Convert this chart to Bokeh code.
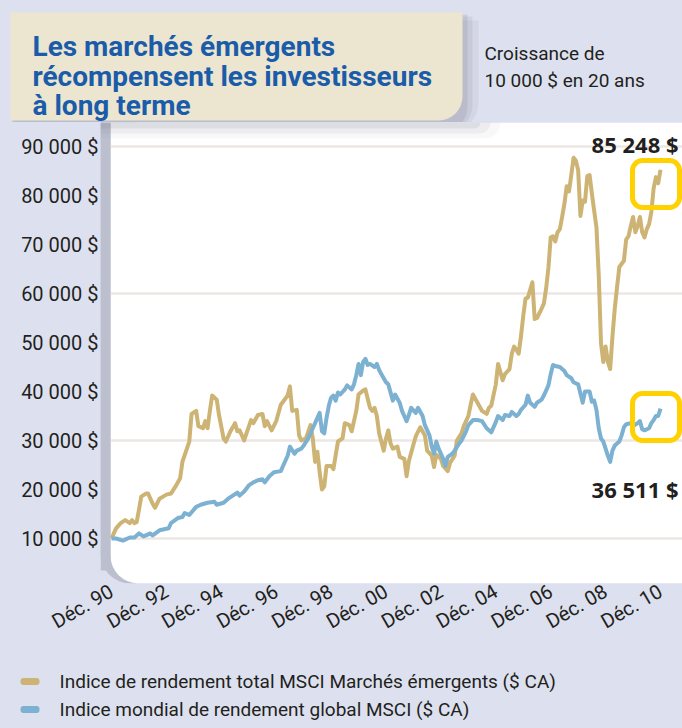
import math
from bokeh.plotting import figure
from bokeh.layouts import column
from bokeh.models import Range1d, FixedTicker, BoxAnnotation, Label, Span
from bokeh.embed import file_html
from bokeh.resources import INLINE

# ---------------- data ----------------
em_dates = ["1990-12","1991-02","1991-04","1991-06","1991-08","1991-09","1991-10","1991-11","1991-12",
"1992-01","1992-03","1992-04","1992-06","1992-07","1992-09","1992-12","1993-02","1993-04","1993-06",
"1993-07","1993-10","1993-11","1994-01","1994-02","1994-04","1994-05","1994-06","1994-07","1994-08",
"1994-10","1994-11","1995-01","1995-02","1995-04","1995-06","1995-07","1995-08","1995-10","1995-11",
"1996-01","1996-02","1996-04","1996-06","1996-07","1996-08","1996-10","1996-12","1997-02","1997-03",
"1997-05","1997-06","1997-07","1997-09","1997-10","1997-11","1998-01","1998-03","1998-04","1998-05",
"1998-06","1998-07","1998-08","1998-09","1998-10","1998-12","1999-01","1999-03","1999-05","1999-06",
"1999-08","1999-09","1999-11","1999-12","2000-02","2000-03","2000-05","2000-06","2000-07","2000-08",
"2000-09","2000-11","2000-12","2001-01","2001-02","2001-03","2001-05","2001-06","2001-08","2001-09",
"2001-10","2001-12","2002-01","2002-03","2002-05","2002-06","2002-08","2002-09","2002-10","2002-12",
"2003-01","2003-03","2003-04","2003-06","2003-07","2003-09","2003-10","2003-12","2004-01","2004-02",
"2004-04","2004-06","2004-08","2004-09","2004-10","2004-12","2005-01","2005-03","2005-04","2005-06",
"2005-07","2005-08","2005-09","2005-10","2005-11","2005-12","2006-01","2006-02","2006-04","2006-05",
"2006-06","2006-08","2006-09","2006-10","2006-11","2006-12","2007-01","2007-02","2007-03","2007-04",
"2007-05","2007-06","2007-07","2007-08","2007-09","2007-10","2007-11","2007-12","2008-01","2008-02",
"2008-03","2008-04","2008-05","2008-06","2008-07","2008-08","2008-09","2008-10","2008-11","2008-12",
"2009-01","2009-02","2009-03","2009-04","2009-05","2009-06","2009-08","2009-09","2009-10","2009-11",
"2009-12","2010-01","2010-02","2010-03","2010-04","2010-05","2010-06","2010-07","2010-08","2010-09",
"2010-10","2010-11","2010-12"]
em_values = [10000,12080,13130,13750,13130,13750,13130,13330,15830,
18540,19170,19170,17080,16250,18130,18960,19170,20630,22290,
25630,29790,35420,36040,32920,32500,33960,32500,36040,39170,
38330,35210,30420,29790,31880,33540,31880,32080,30000,31460,
34170,33540,35210,35420,32920,33960,32080,33960,37290,37920,
39170,41040,36040,36250,31040,30000,30420,33130,30420,25630,
27710,23540,20000,20630,24790,24790,24170,29790,30420,33540,
33130,31880,36040,39380,40210,40420,36670,36040,36670,35000,
31460,27920,30420,32080,29380,28330,28750,26670,26250,22710,
25830,29170,30830,32710,31040,27920,26880,24580,27080,26250,
24790,23750,25420,26880,30000,31460,32920,35000,37290,39380,
37710,36040,35420,36670,37080,41460,45630,42290,43540,44580,
47710,49170,48540,47710,51250,55420,58960,59170,62290,54790,
55000,56880,57920,61040,65210,71460,71670,70630,72500,73130,
75630,78330,81880,80830,84170,87710,87080,85210,75830,78960,
78750,83960,84170,80420,76880,73540,63750,49790,46040,49170,
46040,44580,51250,56880,61250,65420,66670,71040,71670,73750,
75630,72500,73750,75630,72500,71460,73130,74170,76670,81460,
83750,82500,85248]

gl_dates = ["1990-12","1991-02","1991-05","1991-08","1991-10","1991-12","1992-02","1992-05","1992-06",
"1992-09","1993-01","1993-02","1993-05","1993-07","1993-08","1993-10","1994-01","1994-03","1994-06",
"1994-09","1994-10","1995-01","1995-03","1995-05","1995-07","1995-08","1995-10","1995-12","1996-02",
"1996-04","1996-06","1996-07","1996-09","1996-11","1997-02","1997-03","1997-05","1997-06","1997-08",
"1997-09","1997-11","1997-12","1998-02","1998-04","1998-05","1998-07","1998-08","1998-09","1998-10",
"1998-11","1998-12","1999-01","1999-02","1999-03","1999-04","1999-06","1999-07","1999-09","1999-10",
"1999-11","1999-12","2000-01","2000-02","2000-03","2000-04","2000-05","2000-07","2000-08","2000-09",
"2000-10","2000-12","2001-01","2001-03","2001-04","2001-06","2001-07","2001-09","2001-10","2001-11",
"2002-01","2002-02","2002-04","2002-05","2002-07","2002-08","2002-09","2002-10","2002-11","2003-01",
"2003-02","2003-03","2003-05","2003-06","2003-08","2003-09","2003-11","2003-12","2004-02","2004-04",
"2004-06","2004-08","2004-10","2004-12","2005-01","2005-03","2005-04","2005-06","2005-07","2005-09",
"2005-10","2005-11","2006-01","2006-02","2006-03","2006-05","2006-06","2006-08","2006-09","2006-11",
"2006-12","2007-01","2007-02","2007-04","2007-06","2007-07","2007-09","2007-10","2007-12","2008-01",
"2008-02","2008-03","2008-05","2008-06","2008-07","2008-08","2008-09","2008-10","2008-11","2008-12",
"2009-01","2009-02","2009-03","2009-04","2009-06","2009-07","2009-08","2009-09","2009-11","2009-12",
"2010-02","2010-03","2010-04","2010-05","2010-07","2010-08","2010-09","2010-10","2010-11","2010-12"]
gl_values = [10000,10000,9580,10210,10210,11040,10420,11040,10630,
11670,12080,13130,14170,14380,15210,14790,16460,16880,17290,
17500,16880,17290,18130,18750,19380,18750,19580,20830,21460,
21880,22080,21460,22710,23540,23750,24790,26880,28750,27290,
27920,28330,28960,30420,32500,33540,35630,31880,31460,34580,
37080,38750,39170,38130,39790,39380,40420,41250,40420,41460,
43330,45630,43330,46040,46670,45420,45630,45000,45630,44380,
43540,41880,41460,38130,39380,37710,36040,33960,35210,36670,
35630,36670,35000,33130,31040,28750,27290,29790,28330,26250,
24790,26670,27290,27920,29380,30000,31880,33130,34170,34170,
33960,32500,31670,33750,35000,34170,35210,35000,35830,35000,
35420,36250,37290,39170,37710,36880,37710,38330,39170,41250,
43540,45420,45210,45000,44170,43330,42710,41880,41460,39580,
37710,40000,40000,37920,38130,36250,32500,30420,29790,28330,
26880,25630,27920,28960,29790,31040,32710,33330,33540,32920,
33540,33960,32290,32080,32500,33540,34170,35000,35000,36511]

y_ticks = [10000, 20000, 30000, 40000, 50000, 60000, 70000, 80000, 90000]
grid_values = [10000, 30000, 60000, 90000]
x_tick_dates = ["1990-12","1992-12","1994-12","1996-12","1998-12","2000-12",
                "2002-12","2004-12","2006-12","2008-12","2010-12"]
x_tick_labels = ["Déc. 90","Déc. 92","Déc. 94","Déc. 96","Déc. 98","Déc. 00",
                 "Déc. 02","Déc. 04","Déc. 06","Déc. 08","Déc. 10"]

title_lines = ["Les marchés émergents", "récompensent les investisseurs", "à long terme"]
subtitle_lines = ["Croissance de", "10 000 $ en 20 ans"]
em_name = "Indice de rendement total MSCI Marchés émergents ($ CA)"
gl_name = "Indice mondial de rendement global MSCI ($ CA)"

# ---------------- style ----------------
LAV = "#dde1ef"
BEIGE = "#ece6d0"
TITLE_BLUE = "#1a5ca9"
TXT = "#231f20"
GOLD = "#cdb474"
BLUE = "#7cb1d2"
YELLOW = "#ffd100"
GRID = "#ebe7e4"
STRIP = "#bcbfcd"
FONT = "Roboto"
FONT_B = "Open Sans"

def month_index(s):
    y, m = s.split("-")
    return (int(y) - 1990) * 12 + int(m) - 12

def money(v):
    return f"{v:,}".replace(",", " ") + " $"

W = 682
TOP_H, MAIN_H, LEG_H = 122, 533, 73

def bare_figure(h):
    f = figure(width=W, height=h, x_range=Range1d(0, W), y_range=Range1d(0, h),
               output_backend="svg", toolbar_location=None, x_axis_location=None,
               y_axis_location=None, min_border=0, min_border_left=0, min_border_right=0,
               min_border_top=0, min_border_bottom=0, frame_align=False,
               background_fill_color=LAV, border_fill_color=LAV, outline_line_color=None)
    f.grid.visible = False
    return f

# ================= title strip (page y 0..122) =================
t = bare_figure(TOP_H)

def ty(py):
    return TOP_H - py

for (l, r, tp, a, rad) in [(14, 478, 20, 0.10, 30), (12, 472, 16, 0.14, 28), (11, 467, 14, 0.18, 26)]:
    t.add_layout(BoxAnnotation(left=l, right=r, top=ty(tp), bottom=ty(TOP_H + 10),
                               fill_color="#7d8090", fill_alpha=a, line_color=None, line_alpha=0,
                               border_radius=(0, 0, rad, 0), level="underlay"))
t.add_layout(BoxAnnotation(left=10, right=462, top=ty(12), bottom=ty(120),
                           fill_color=BEIGE, fill_alpha=1.0, line_color=None, line_alpha=0,
                           border_radius=(0, 0, 24, 0), level="annotation"))
for i, s in enumerate(title_lines):
    t.add_layout(Label(x=32, y=ty(46 + 29.5 * i), text=s, text_align="left",
                       text_baseline="alphabetic", text_font=FONT, text_font_style="bold",
                       text_font_size="28px", text_color=TITLE_BLUE, level="overlay"))
for i, s in enumerate(subtitle_lines):
    t.add_layout(Label(x=484, y=ty(53 + 27 * i), text=s, text_align="left",
                       text_baseline="alphabetic", text_font=FONT,
                       text_font_size="19px", text_color=TXT, level="overlay"))

# ================= main chart (page y 122..655) =================
OFF = TOP_H
FL, FT, FR, FB = 100, 122, 682, 583
PX_PER_MONTH = 2.2875
PX_PER_DOLLAR = 4.9 / 1000
X0_PX, Y10K_PX = 111, 538

x_start = -(X0_PX - FL) / PX_PER_MONTH
x_end = x_start + (FR - FL) / PX_PER_MONTH
y_end = 10000 + (Y10K_PX - FT) / PX_PER_DOLLAR
y_start = y_end - (FB - FT) / PX_PER_DOLLAR

def dx(px):
    return x_start + (px - FL) / PX_PER_MONTH

def dy(py):
    return y_end - (py - FT) / PX_PER_DOLLAR

p = figure(width=W, height=MAIN_H, x_range=Range1d(x_start, x_end), y_range=Range1d(y_start, y_end),
           output_backend="svg", toolbar_location=None, frame_align=False,
           min_border_left=FL, min_border_right=W - FR, min_border_top=FT - OFF,
           min_border_bottom=(OFF + MAIN_H) - FB,
           background_fill_color=LAV, border_fill_color=LAV, outline_line_color=None)
p.grid.visible = False

p.xaxis.ticker = FixedTicker(ticks=[month_index(d) for d in x_tick_dates])
p.xaxis.major_label_overrides = {month_index(d): lab for d, lab in zip(x_tick_dates, x_tick_labels)}
p.xaxis.major_label_orientation = math.pi / 6
p.yaxis.ticker = FixedTicker(ticks=y_ticks)
p.yaxis.major_label_overrides = {v: money(v) for v in y_ticks}
for ax in (p.xaxis[0], p.yaxis[0]):
    ax.axis_line_color = None
    ax.major_tick_line_color = None
    ax.minor_tick_line_color = None
    ax.major_tick_out = 0
    ax.major_tick_in = 0
    ax.major_label_text_font = FONT
    ax.major_label_text_font_size = "20px"
    ax.major_label_text_color = TXT
p.xaxis.major_label_standoff = 6
p.yaxis.major_label_standoff = 2

# white rounded panel with a grey edge on its left
p.add_layout(BoxAnnotation(left=dx(100), right=dx(135), top=dy(122), bottom=dy(583),
                           fill_color=STRIP, fill_alpha=1.0, line_color=None, line_alpha=0,
                           border_radius=(0, 0, 0, 30), level="image"))
p.add_layout(BoxAnnotation(left=dx(110), right=dx(682), top=dy(122), bottom=dy(583),
                           fill_color="white", fill_alpha=1.0, line_color=None, line_alpha=0,
                           border_radius=(0, 0, 0, 28), level="image"))
for gv in grid_values:
    p.add_layout(Span(location=gv, dimension="width", line_color=GRID, line_width=2.5, level="underlay"))
p.add_layout(BoxAnnotation(left=dx(100), right=dx(110), top=dy(122), bottom=dy(570),
                           fill_color=STRIP, fill_alpha=1.0, line_color=None, line_alpha=0,
                           level="guide"))
# soft shadow of the title box on top of the panel
for (r, h, a) in [(500, 16, 0.05), (490, 11, 0.08), (480, 6, 0.12)]:
    p.add_layout(BoxAnnotation(left=dx(100), right=dx(r), top=dy(122), bottom=dy(122 + h),
                               fill_color="#6f7283", fill_alpha=a, line_color=None, line_alpha=0,
                               border_radius=(0, 0, h, 0), level="guide"))

# series
em_x = [month_index(d) for d in em_dates]
gl_x = [month_index(d) for d in gl_dates]
p.line(em_x, em_values, line_color=GOLD, line_width=4, line_join="round")
p.line(gl_x, gl_values, line_color=BLUE, line_width=4, line_join="round")

# highlight boxes around the final values
for (tp, bt) in [(160, 207), (393, 440)]:
    p.add_layout(BoxAnnotation(left=dx(632), right=dx(679), top=dy(tp), bottom=dy(bt),
                               fill_alpha=0, line_color=YELLOW, line_alpha=1.0, line_width=5,
                               border_radius=10, level="annotation"))
p.add_layout(Label(x=dx(678), y=dy(143), text=money(em_values[-1]), text_align="right",
                   text_baseline="middle", text_font=FONT_B, text_font_style="bold",
                   text_font_size="22px", text_color=TXT))
p.add_layout(Label(x=dx(678), y=dy(488), text=money(gl_values[-1]), text_align="right",
                   text_baseline="middle", text_font=FONT_B, text_font_style="bold",
                   text_font_size="22px", text_color=TXT))

# ================= legend strip (page y 655..728) =================
LOFF = OFF + MAIN_H
g = bare_figure(LEG_H)

def gy(py):
    return LOFF + LEG_H - py

for i, (name, col) in enumerate([(em_name, GOLD), (gl_name, BLUE)]):
    cy = 681 + 28 * i
    g.add_layout(BoxAnnotation(left=20, right=39, top=gy(cy - 3.5), bottom=gy(cy + 3.5),
                               fill_color=col, fill_alpha=1.0, line_color=None, line_alpha=0,
                               border_radius=3, level="annotation"))
    g.add_layout(Label(x=59, y=gy(cy), text=name, text_align="left", text_baseline="middle",
                       text_font=FONT, text_font_size="19px", text_color=TXT))

layout = column(t, p, g, spacing=0, styles={"background-color": LAV})
open("out.html", "w").write(file_html(layout, INLINE))
